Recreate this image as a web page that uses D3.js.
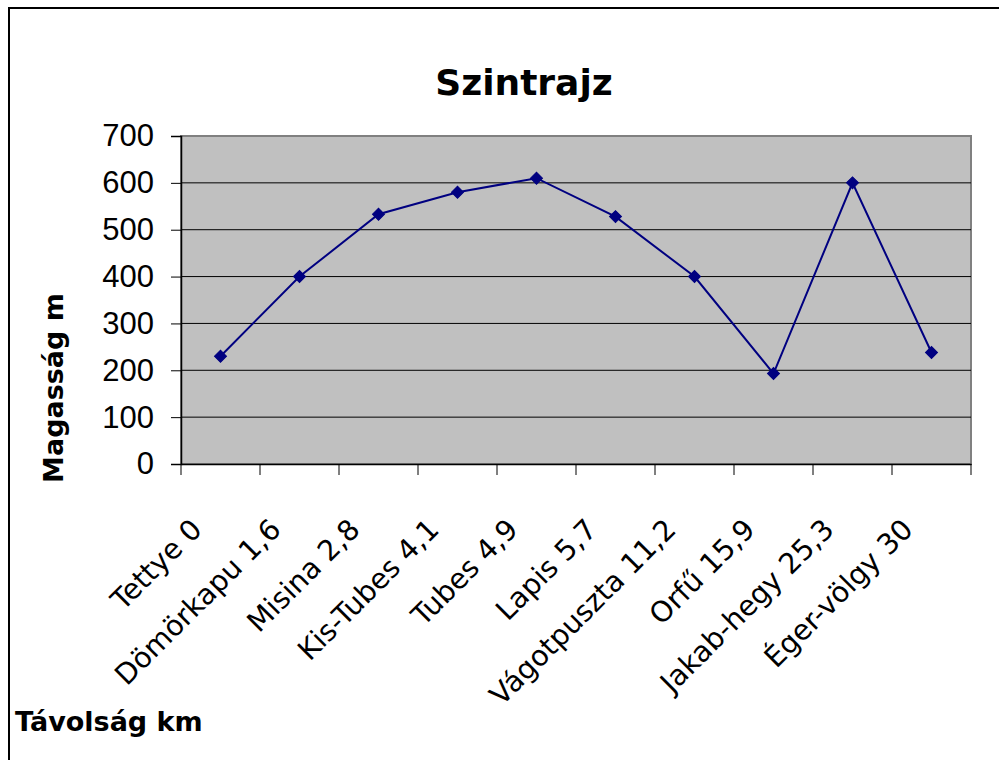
<!DOCTYPE html>
<html>
<head>
<meta charset="utf-8">
<script src="https://cdn.jsdelivr.net/npm/d3@7"></script>
<style>
  html, body { margin: 0; padding: 0; background: #fff; }
  svg { display: block; }
</style>
</head>
<body>
<svg id="chart" width="999" height="760"></svg>
<script>
const categories = ["Tettye 0", "Dömörkapu 1,6", "Misina 2,8", "Kis-Tubes 4,1", "Tubes 4,9",
                    "Lapis 5,7", "Vágotpuszta 11,2", "Orfű 15,9", "Jakab-hegy 25,3", "Éger-völgy 30"];
const heights = [230, 400, 533, 580, 610, 528, 400, 193, 600, 238];
const yTicks = [0, 100, 200, 300, 400, 500, 600, 700];
const title = "Szintrajz";
const yTitle = "Magasság m";
const xTitle = "Távolság km";

const svg = d3.select("#chart");
const comic = "'Comic Sans MS', 'DejaVu Sans', sans-serif";
const arial = "Arial, 'Liberation Sans', sans-serif";

const plot = { left: 181, right: 971, top: 136, bottom: 464 };

// outer chart border
svg.append("rect").attr("x", 9).attr("y", 8).attr("width", 1010).attr("height", 800)
  .attr("fill", "#fff").attr("stroke", "#000").attr("stroke-width", 2);

const x = d3.scaleBand().domain(categories).range([plot.left, plot.right]).padding(0);
const y = d3.scaleLinear().domain([0, 700]).range([plot.bottom, plot.top]);

// plot area
svg.append("rect").attr("x", plot.left).attr("y", plot.top)
  .attr("width", plot.right - plot.left).attr("height", plot.bottom - plot.top)
  .attr("fill", "#c0c0c0").attr("stroke", "#808080").attr("stroke-width", 2);

// gridlines
svg.append("g").selectAll("line").data(yTicks.filter(d => d > 0 && d < 700)).join("line")
  .attr("x1", plot.left).attr("x2", plot.right)
  .attr("y1", d => y(d)).attr("y2", d => y(d))
  .attr("stroke", "#000").attr("stroke-width", 1);

// y axis
const yAxis = svg.append("g").attr("transform", `translate(${plot.left},0)`)
  .call(d3.axisLeft(y).tickValues(yTicks).tickSize(10).tickPadding(17).tickFormat(d3.format("d")));
yAxis.select(".domain").attr("stroke", "#000").attr("stroke-width", 1.5);
yAxis.selectAll(".tick line").attr("stroke", "#000");
yAxis.selectAll(".tick text").attr("font-family", arial).attr("font-size", 31).attr("fill", "#000");

// x axis
const xAxis = svg.append("g").attr("transform", `translate(0,${plot.bottom})`)
  .call(d3.axisBottom(x).tickSize(0).tickFormat(""));
xAxis.select(".domain").attr("stroke", "#000").attr("stroke-width", 1.5);
xAxis.selectAll(".tick").remove();
const bounds = categories.map(c => x(c)).concat([x(categories[categories.length - 1]) + x.bandwidth()]);
xAxis.selectAll("line.bt").data(bounds).join("line").attr("class", "bt")
  .attr("x1", d => d).attr("x2", d => d).attr("y1", 0).attr("y2", 11)
  .attr("stroke", "#000").attr("stroke-width", 1);

// x tick labels, rotated
svg.append("g").selectAll("text").data(categories).join("text")
  .attr("transform", d => `translate(${x(d) + x.bandwidth() / 2 - 24},524) rotate(-45)`)
  .attr("text-anchor", "end").attr("dy", "0.35em")
  .attr("font-family", comic).attr("font-size", 28.5).attr("fill", "#000")
  .text(d => d);

// line
const line = d3.line().x((d, i) => x(categories[i]) + x.bandwidth() / 2).y(d => y(d));
svg.append("path").datum(heights).attr("d", line)
  .attr("fill", "none").attr("stroke", "#000080").attr("stroke-width", 2);

// markers
svg.append("g").selectAll("path").data(heights).join("path")
  .attr("transform", (d, i) => `translate(${x(categories[i]) + x.bandwidth() / 2},${y(d)}) rotate(45)`)
  .attr("d", d3.symbol().type(d3.symbolSquare).size(72))
  .attr("fill", "#000080").attr("stroke", "#000080").attr("stroke-width", 1);

// title
svg.append("text").attr("x", 524).attr("y", 95).attr("text-anchor", "middle")
  .attr("font-family", comic).attr("font-weight", "bold").attr("font-size", 36)
  .text(title);

// y title
svg.append("text").attr("transform", "translate(63,388) rotate(-90)").attr("text-anchor", "middle")
  .attr("font-family", comic).attr("font-weight", "bold").attr("font-size", 27)
  .text(yTitle);

// x title
svg.append("text").attr("x", 15).attr("y", 731)
  .attr("font-family", comic).attr("font-weight", "bold").attr("font-size", 27)
  .text(xTitle);
</script>
</body>
</html>
